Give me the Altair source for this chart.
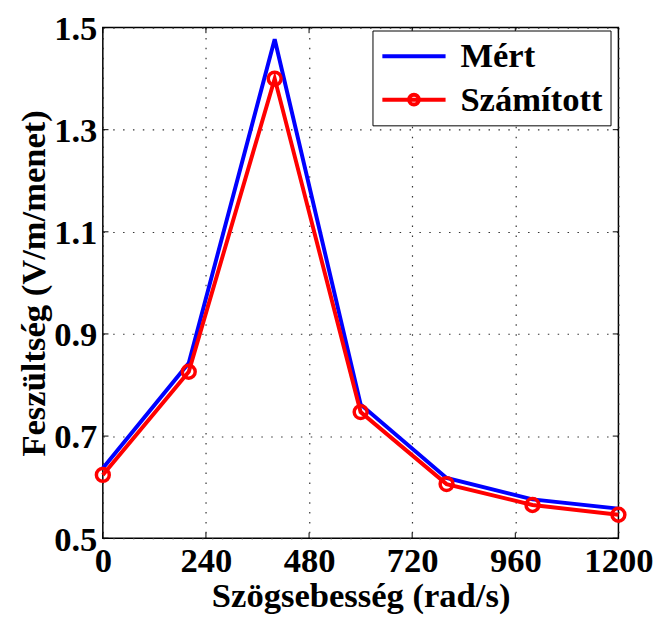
import altair as alt
import pandas as pd

speed = [0, 200, 400, 600, 800, 1000, 1200]
mert = [0.637, 0.843, 1.477, 0.762, 0.618, 0.576, 0.558]
szamitott = [0.624, 0.826, 1.400, 0.747, 0.606, 0.565, 0.546]
series = ["Mért", "Számított"]
colors = ["#0000ff", "#ff0000"]
x_ticks = [0, 240, 480, 720, 960, 1200]
y_ticks = [0.5, 0.7, 0.9, 1.1, 1.3, 1.5]

FONT = "Liberation Serif"
FS = 35
W, H = 522, 517

rows = []
for s, vals in zip(series, [mert, szamitott]):
    for xv, yv in zip(speed, vals):
        rows.append({"x": xv, "y": yv, "series": s})
df = pd.DataFrame(rows)

xs = alt.Scale(domain=[0, 1200], nice=False)
ys = alt.Scale(domain=[0.5, 1.5], nice=False)

common = dict(grid=True, ticks=False, domain=False, labelFont=FONT, labelFontWeight="bold",
              labelFontSize=FS, labelColor="black", titleFont=FONT, titleFontWeight="bold",
              titleFontSize=FS, titleColor="black", gridDash=[1.5, 8.5],
              gridColor="#333333", gridWidth=1.2, labelFlush=False)
xax = alt.Axis(values=x_ticks, title="Szögsebesség (rad/s)", labelPadding=6,
               titlePadding=0, format="d", **common)
yax = alt.Axis(values=y_ticks, title="Feszültség (V/m/menet)", labelPadding=6,
               titlePadding=2, format=".1f", labelOffset=1, **common)

base = alt.Chart(df)

blue = base.transform_filter(alt.datum.series == "Mért").mark_line(
    color=colors[0], strokeWidth=4).encode(
    x=alt.X("x:Q", scale=xs, axis=xax), y=alt.Y("y:Q", scale=ys, axis=yax))
red = base.transform_filter(alt.datum.series == "Számított").mark_line(
    color=colors[1], strokeWidth=4).encode(x=alt.X("x:Q", scale=xs), y=alt.Y("y:Q", scale=ys))
redpts = base.transform_filter(alt.datum.series == "Számított").mark_point(
    color=colors[1], strokeWidth=3.5, size=170, filled=False, opacity=1).encode(
    x=alt.X("x:Q", scale=xs), y=alt.Y("y:Q", scale=ys))

# inward ticks
tx = 0.011 * 1.0
ty = 0.011 * 1200
xt = pd.DataFrame([{"x": v, "y": 0.5, "y2": 0.5 + tx} for v in x_ticks] +
                  [{"x": v, "y": 1.5, "y2": 1.5 - tx} for v in x_ticks])
yt = pd.DataFrame([{"y": v, "x": 0, "x2": ty} for v in y_ticks] +
                  [{"y": v, "x": 1200, "x2": 1200 - ty} for v in y_ticks])
xtick = alt.Chart(xt).mark_rule(color="black", strokeWidth=1).encode(
    x=alt.X("x:Q", scale=xs), y=alt.Y("y:Q", scale=ys), y2="y2:Q")
ytick = alt.Chart(yt).mark_rule(color="black", strokeWidth=1).encode(
    y=alt.Y("y:Q", scale=ys), x=alt.X("x:Q", scale=xs), x2="x2:Q")

line_path = "M-1,0L3,0"
circ_path = "M-1,0L3,0M0.69,0A0.31,0.31,0,1,1,1.31,0A0.31,0.31,0,1,1,0.69,0"
leg_df = pd.DataFrame({"series": series})
legend = alt.Legend(orient="none", legendX=273, legendY=3, title=None,
                    labelFont=FONT, labelFontWeight="bold", labelFontSize=FS,
                    labelColor="black", symbolSize=1024, symbolStrokeWidth=4,
                    symbolOpacity=1, strokeColor="black", fillColor="white",
                    padding=8, rowPadding=8, labelOffset=45, symbolFillColor="white")
dummy = alt.Chart(leg_df).mark_point(filled=False, opacity=0).encode(
    x=alt.value(0), y=alt.value(0),
    color=alt.Color("series:N", scale=alt.Scale(domain=series, range=colors), legend=legend),
    shape=alt.Shape("series:N", scale=alt.Scale(domain=series, range=[line_path, circ_path]),
                    legend=legend))

chart = alt.layer(blue, red, redpts, xtick, ytick, dummy).properties(
    width=W, height=H,
    autosize=alt.AutoSizeParams(type="none"),
    padding={"left": 96, "top": 16, "right": 35, "bottom": 79},
    background="white",
).configure_view(stroke="black", strokeWidth=1.5)

chart.save("out.html", embed_options={"renderer": "svg", "actions": False})
